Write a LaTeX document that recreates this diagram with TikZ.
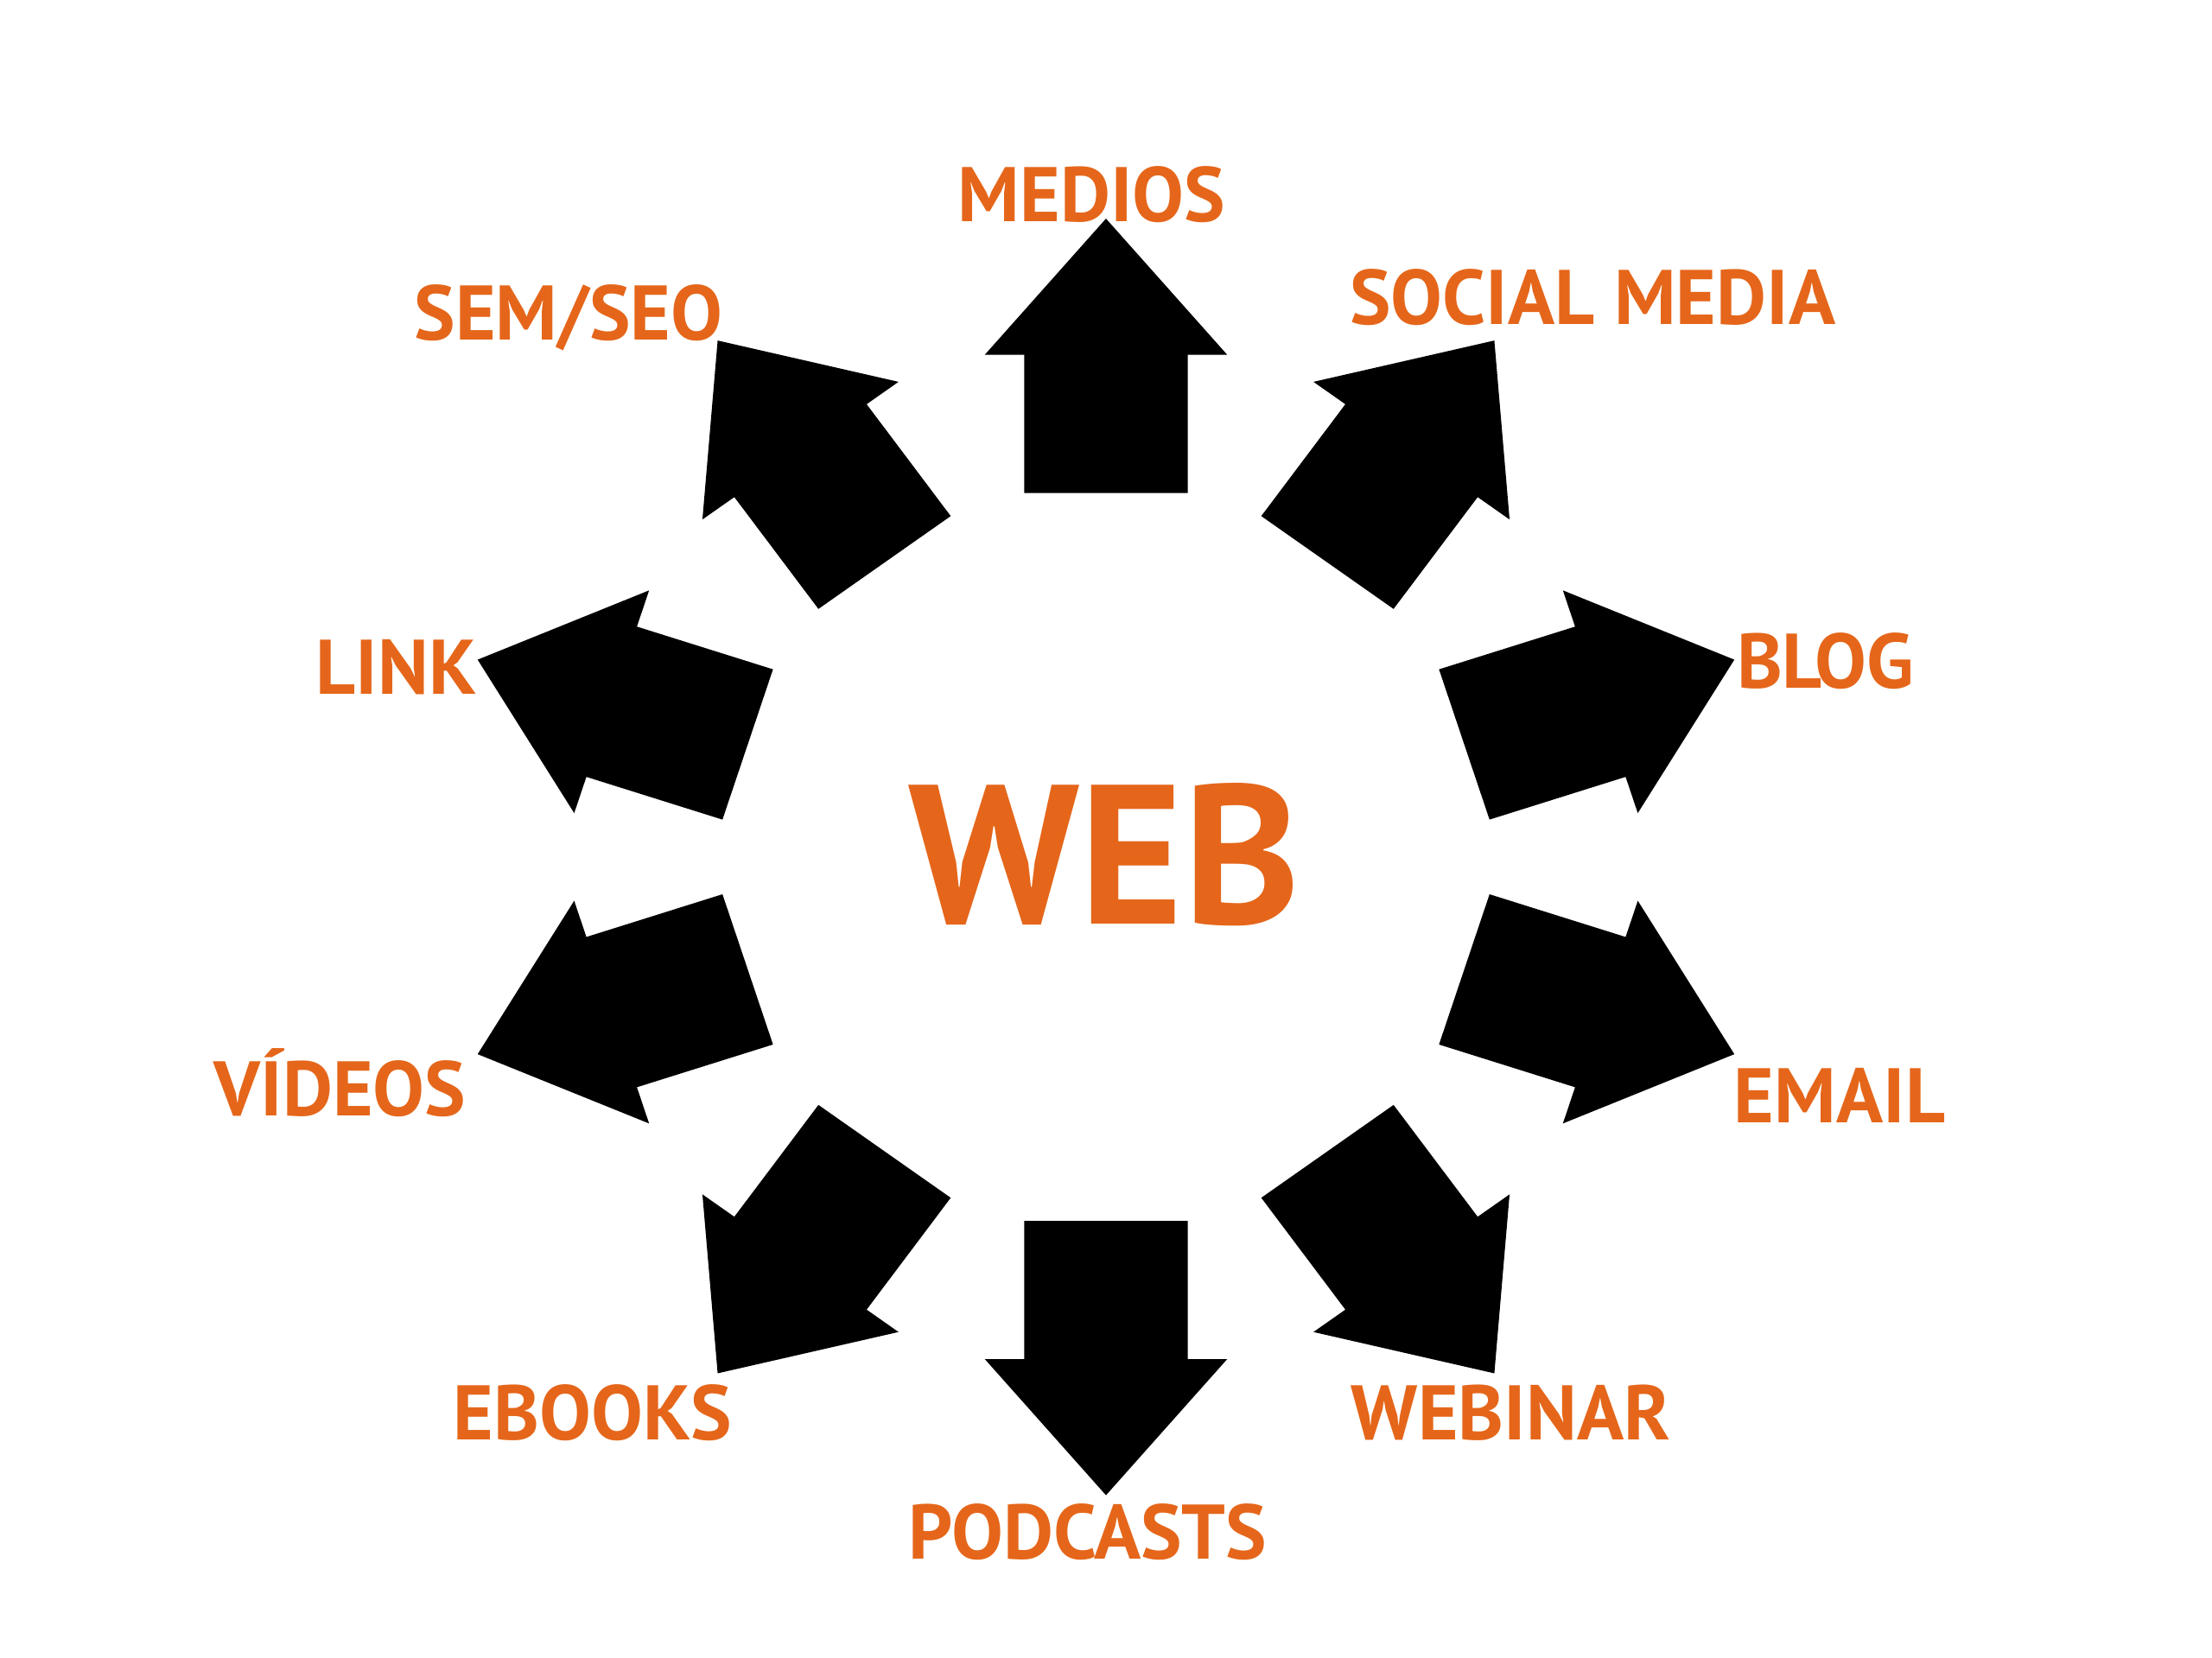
\documentclass[tikz,border=0pt]{standalone}
\usepackage{fontspec}
\setmainfont{PT Sans}
\definecolor{org}{HTML}{E5661A}
\begin{document}
\begin{tikzpicture}[x=0.01cm,y=0.01cm,
  lbl/.style={text=org,font=\bfseries\fontsize{15.6pt}{18pt}\selectfont,inner sep=0pt,anchor=base},
  arr/.style={fill=black}]
\useasboundingbox[fill=white] (0,0) rectangle (1568,1175);
\begin{scope}[shift={(784,567.5)},xscale=1.035]
\foreach \a in {90,54,18,-18,-54,-90,-126,-162,162,126}
  \fill[arr,rotate=\a] (258,-56) -- (356,-56) -- (356,-83) -- (452.5,0) -- (356,83) -- (356,56) -- (258,56) -- cycle;
\end{scope}
\node[lbl,font=\bfseries\fontsize{40pt}{44pt}\selectfont] (web) at (783,520) {WEB};
\node[lbl] (medios) at (774,1018) {MEDIOS};
\node[lbl] (social) at (1129,945) {SOCIAL MEDIA};
\node[lbl] (blog) at (1294,687) {BLOG};
\node[lbl] (email) at (1304,379) {EMAIL};
\node[lbl] (webinar) at (1071,154) {WEBINAR};
\node[lbl] (podcasts) at (771,70) {PODCASTS};
\node[lbl] (ebooks) at (420,154) {EBOOKS};
\node[lbl] (videos) at (241,384) {VÍDEOS};
\node[lbl] (link) at (281,683) {LINK};
\node[lbl] (semseo) at (403,934) {SEM/SEO};
\end{tikzpicture}
\end{document}
